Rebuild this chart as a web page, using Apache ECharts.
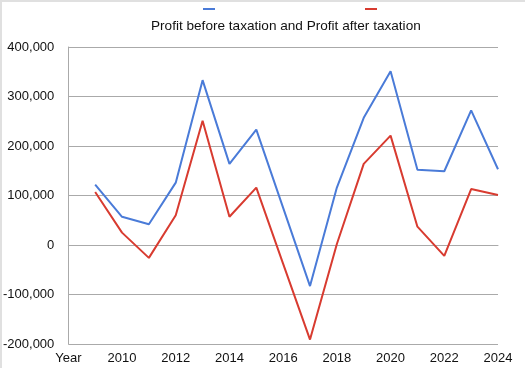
<!DOCTYPE html>
<html>
<head>
<meta charset="utf-8">
<script src="https://cdn.jsdelivr.net/npm/echarts@6/dist/echarts.min.js"></script>
<style>
html,body{margin:0;padding:0;background:#fff;}
#c{width:525px;height:368px;}
#f{position:absolute;left:0;top:0;width:525px;height:368px;box-shadow:inset 2px 2px 0 #e0e0e0;pointer-events:none;}
</style>
</head>
<body>
<div id="c"></div>
<div id="f"></div>
<script>
const years = [2009,2010,2011,2012,2013,2014,2015,2016,2017,2018,2019,2020,2021,2022,2023,2024];
const profitBeforeTax = [122000,57000,42000,126000,333000,164000,233000,75000,-83000,116000,257000,351000,152000,149000,272000,153000];
const profitAfterTax = [107000,25000,-26000,60000,251000,57000,116000,-38000,-191000,2000,164000,221000,37000,-22000,113000,101000];
const seriesNames = ['Profit before taxation','Profit after taxation'];
const titleText = 'Profit before taxation and Profit after taxation';

const chart = echarts.init(document.getElementById('c'));
const font = 'Liberation Sans, Arial, Helvetica, sans-serif';
chart.setOption({
  animation:false,
  title:{text:titleText,left:146,top:14,textStyle:{fontFamily:font,fontSize:13.6,fontWeight:'normal',color:'#111'}},
  legend:{data:seriesNames,left:198,top:3,itemWidth:12,itemHeight:2,itemGap:150,icon:'rect',
    formatter:function(){return '';},textStyle:{fontSize:1}},
  grid:{left:68,right:27,top:47,bottom:24},
  xAxis:{type:'value',min:2008,max:2024,interval:2,
    axisLine:{show:true,lineStyle:{color:'#aaa'}},axisTick:{show:false},splitLine:{show:false},
    axisLabel:{fontFamily:font,fontSize:13,color:'#111',margin:8,
      formatter:function(v){return v===2008?'Year':String(v);}}},
  yAxis:{type:'value',min:-200000,max:400000,interval:100000,
    axisLine:{show:true,lineStyle:{color:'#aaa'}},axisTick:{show:false},
    splitLine:{lineStyle:{color:'#aaa'}},
    axisLabel:{fontFamily:font,fontSize:13,color:'#111',margin:14,
      formatter:function(v){return v.toLocaleString('en-US');}}},
  series:[
    {name:seriesNames[0],type:'line',data:years.map((y,i)=>[y,profitBeforeTax[i]]),symbol:'none',
      lineStyle:{color:'#4a7bd8',width:2},itemStyle:{color:'#4a7bd8'}},
    {name:seriesNames[1],type:'line',data:years.map((y,i)=>[y,profitAfterTax[i]]),symbol:'none',
      lineStyle:{color:'#d83b30',width:2},itemStyle:{color:'#d83b30'}}
  ]
});
</script>
</body>
</html>
